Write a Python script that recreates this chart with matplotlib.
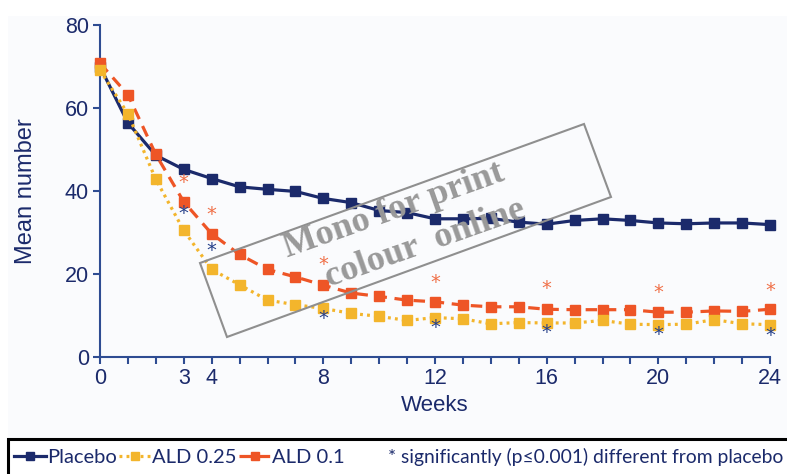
import matplotlib
matplotlib.use("Agg")
import matplotlib.pyplot as plt
from matplotlib.patches import Rectangle, Polygon
from matplotlib.lines import Line2D

weeks = list(range(0, 25))
placebo = [70.0, 56.4, 48.6, 45.2, 43.0, 41.0, 40.4, 39.9, 38.2, 37.2, 35.3, 34.8,
           33.3, 33.3, 33.4, 32.5, 32.0, 32.9, 33.3, 32.9, 32.3, 32.1, 32.3, 32.3, 31.9]
ald_025 = [69.1, 58.6, 42.8, 30.5, 21.1, 17.4, 13.7, 12.6, 11.7, 10.5, 9.8, 8.8,
           9.5, 9.2, 8.0, 8.3, 8.2, 8.2, 8.8, 7.9, 7.8, 7.9, 9.0, 8.0, 7.8]
ald_01 = [70.8, 63.2, 48.8, 37.4, 29.7, 24.7, 21.1, 19.3, 17.3, 15.4, 14.6, 13.7,
          13.3, 12.5, 12.1, 12.1, 11.5, 11.4, 11.4, 11.4, 10.8, 10.8, 11.1, 11.0, 11.5]

sig_weeks = [3, 4, 8, 12, 16, 20, 24]
sig_01_y = [42.0, 34.3, 22.3, 17.9, 16.5, 15.6, 16.1]
sig_025_y = [34.5, 25.7, 9.3, 7.0, 5.8, 5.4, 5.2]

xtick_labels = [0, 3, 4, 8, 12, 16, 20, 24]
ytick_labels = [0, 20, 40, 60, 80]

NAVY = "#1b2a6b"
ORANGE = "#ee5526"
YELLOW = "#f3b52c"
SPINE = "#2e4c92"
STAR_OR = "#f07048"
STAR_NV = "#26408a"
GRAY = "#999999"

W, H = 787, 474
fig = plt.figure(figsize=(W / 100, H / 100), dpi=100)
fig.patch.set_facecolor("white")
fig.patches.append(Rectangle((8 / W, 0), 1, 1 - 16 / H, transform=fig.transFigure,
                             facecolor="#fafbfd", edgecolor="none", zorder=-10))

ax = fig.add_axes([100 / W, 1 - 357 / H, 670 / W, 332 / H])
ax.set_facecolor("none")
ax.set_xlim(0, 24)
ax.set_ylim(0, 80)

ax.plot(weeks, placebo, color=NAVY, lw=2.3, marker="s", ms=7.5, clip_on=False,
        zorder=3, label="Placebo")
ax.plot(weeks, ald_01, color=ORANGE, lw=2.3, ls=(0, (3.6, 2.4)), marker="s", ms=7.5,
        clip_on=False, zorder=4, label="ALD 0.1")
ax.plot(weeks, ald_025, color=YELLOW, lw=2.3, ls=(0, (0.9, 1.3)), marker="s", ms=7.5,
        clip_on=False, zorder=5, label="ALD 0.25")

for wk, y in zip(sig_weeks, sig_01_y):
    ax.text(wk, y, "*", color=STAR_OR, ha="center", va="center", fontsize=14,
            family="DejaVu Sans", zorder=6)
for wk, y in zip(sig_weeks, sig_025_y):
    ax.text(wk, y, "*", color=STAR_NV, ha="center", va="center", fontsize=14,
            family="DejaVu Sans", zorder=6)

for s in ["top", "right"]:
    ax.spines[s].set_visible(False)
for s in ["left", "bottom"]:
    ax.spines[s].set_color(SPINE)
    ax.spines[s].set_linewidth(1.5)

ax.set_xticks(weeks, minor=True)
ax.set_xticks(xtick_labels)
ax.set_yticks(ytick_labels)
ax.tick_params(axis="both", which="both", direction="out", color=SPINE, width=1.5,
               labelcolor=NAVY, labelsize=15.5, length=5, pad=3)
for lab in ax.get_xticklabels() + ax.get_yticklabels():
    lab.set_family("Liberation Sans")

ax.set_xlabel("Weeks", fontsize=16, color=NAVY, family="Liberation Sans", labelpad=4)
ax.set_ylabel("Mean number", fontsize=17, color=NAVY, family="Liberation Sans", labelpad=20)

# watermark
corners = [(200, 263), (584, 124), (611, 197), (227, 337)]
fig.patches.append(Polygon([(x / W, 1 - y / H) for x, y in corners], closed=True,
                           transform=fig.transFigure, fill=False, edgecolor="#8f8f8f",
                           lw=1.5, zorder=20))
fig.text(287 / W, 1 - 257 / H, "Mono for print", rotation=19.5, rotation_mode="anchor",
         ha="left", va="baseline", fontsize=26, fontweight="bold", color=GRAY,
         family="Liberation Serif", zorder=21)
fig.text(329 / W, 1 - 287 / H, "colour  online", rotation=19.5, rotation_mode="anchor",
         ha="left", va="baseline", fontsize=26, fontweight="bold", color=GRAY,
         family="Liberation Serif", zorder=21)

# legend box
fig.patches.append(Rectangle((8 / W, -0.1), 1.2, 0.1 + 1 - 439 / H, transform=fig.transFigure,
                             facecolor="white", edgecolor="black", lw=2.2, zorder=1))
h_pl = Line2D([], [], color=NAVY, lw=2.3, marker="s", ms=6)
h_25 = Line2D([], [], color=YELLOW, lw=2.3, ls=(0, (0.9, 1.3)), marker="s", ms=6)
h_01 = Line2D([], [], color=ORANGE, lw=2.3, ls=(0, (3.6, 2.4)), marker="s", ms=6)
leg = fig.legend([h_pl, h_25, h_01], ["Placebo", "ALD 0.25", "ALD 0.1"], ncol=3,
                 loc="center left", bbox_to_anchor=(14 / W, 1 - 457 / H), frameon=False,
                 handlelength=1.6, handletextpad=0.05, columnspacing=0.1, borderpad=0,
                 borderaxespad=0, prop={"family": "Lato", "size": 14.5})
for t in leg.get_texts():
    t.set_color(NAVY)
fig.text(388 / W, 1 - 457 / H, "* significantly (p\u22640.001) different from placebo",
         ha="left", va="center", fontsize=13.9, family="Lato", color=NAVY)

fig.savefig("out.png", dpi=100)
